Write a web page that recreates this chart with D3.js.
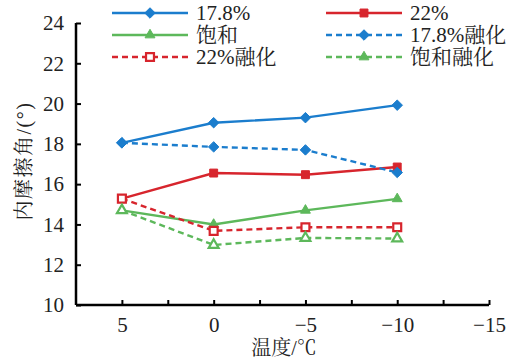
<!DOCTYPE html>
<html>
<head>
<meta charset="utf-8">
<script src="https://cdn.jsdelivr.net/npm/d3@7"></script>
<style>
body { margin: 0; background: #fff; }
</style>
</head>
<body>
<div id="chart"></div>
<script>
// data
const temps = [5, 0, -5, -10];
const xTicks = [5, 0, -5, -10, -15];
const yTicks = [10, 12, 14, 16, 18, 20, 22, 24];
const seriesNames = ["17.8%", "22%", "饱和", "17.8%融化", "22%融化", "饱和融化"];
const v178 = [18.05, 19.05, 19.3, 19.92];
const v22 = [15.28, 16.55, 16.47, 16.85];
const vSat = [14.7, 14.0, 14.7, 15.27];
const v178m = [18.05, 17.85, 17.7, 16.58];
const v22m = [15.28, 13.68, 13.86, 13.86];
const vSatm = [14.7, 12.98, 13.33, 13.3];

const FONT = "\"Liberation Serif\", \"Noto Serif CJK SC\", \"Noto Sans CJK SC\"";
const blue = "#1b7dcd", red = "#d7252d", green = "#5db85b";
const series = [
  {name: seriesNames[0], vals: v178, color: blue, dash: null, marker: "diamond", fill: true},
  {name: seriesNames[1], vals: v22, color: red, dash: null, marker: "square", fill: true},
  {name: seriesNames[2], vals: vSat, color: green, dash: null, marker: "triangle", fill: true},
  {name: seriesNames[3], vals: v178m, color: blue, dash: "6,4", marker: "diamond", fill: true},
  {name: seriesNames[4], vals: v22m, color: red, dash: "6,4", marker: "square", fill: false},
  {name: seriesNames[5], vals: vSatm, color: green, dash: "6,4", marker: "triangle", fill: false}
];

const W = 517, H = 359;
const margin = {top: 23, right: 28, bottom: 54, left: 76};
const width = W - margin.left - margin.right,
      height = H - margin.top - margin.bottom;

const svg = d3.select("#chart").append("svg")
  .attr("width", W).attr("height", H);
const g = svg.append("g").attr("transform", `translate(${margin.left},${margin.top})`);

const x = d3.scaleLinear().domain([7.5, -15]).range([0, width]);
const y = d3.scaleLinear().domain([10, 24]).range([height, 0]);

// axes, ticks pointing inward
const xAxis = g.append("g").attr("transform", `translate(0,${height})`)
  .call(d3.axisBottom(x).tickValues([5, 2.5, 0, -2.5, -5, -7.5, -10, -12.5, -15])
    .tickSize(-5).tickPadding(12)
    .tickFormat(d => xTicks.includes(d) ? (d < 0 ? "\u2212" + (-d) : d) : ""));
const yAxis = g.append("g")
  .call(d3.axisLeft(y).tickValues(yTicks).tickSize(-5).tickPadding(12));

[xAxis, yAxis].forEach(a => {
  a.attr("font-family", null).attr("font-size", null);
  a.select(".domain").attr("stroke", "#000").attr("stroke-width", 2.5);
  a.selectAll(".tick line").attr("stroke", "#000").attr("stroke-width", 2);
  a.selectAll("text").style("font-family", FONT).style("font-size", "21px").attr("fill", "#222");
});
xAxis.select(".domain").attr("d", `M0,0H${width}`);
yAxis.select(".domain").attr("d", `M0,0V${height}`);

const symbols = {diamond: d3.symbolDiamond2, square: d3.symbolSquare2, triangle: d3.symbolTriangle2};
const symSize = {diamond: 70, square: 80, triangle: 70};

function drawMarker(sel, s, filled) {
  sel.attr("d", d3.symbol().type(symbols[s.marker]).size(symSize[s.marker]))
    .attr("fill", filled ? s.color : "#fff")
    .attr("stroke", s.color)
    .attr("stroke-width", filled ? 1 : 2.2);
}

const line = d3.line().x((d, i) => x(temps[i])).y(d => y(d));

series.forEach(s => {
  g.append("path").datum(s.vals)
    .attr("d", line)
    .attr("fill", "none")
    .attr("stroke", s.color)
    .attr("stroke-width", 2.4)
    .attr("stroke-dasharray", s.dash);
});
series.forEach(s => {
  g.selectAll(null).data(s.vals).enter().append("path")
    .attr("transform", (d, i) => `translate(${x(temps[i])},${y(d)})`)
    .call(sel => drawMarker(sel, s, s.fill));
});

// legend, two columns of three rows
const legX = [112, 326], legY = [13, 35, 57];
[[0, 2, 4], [1, 3, 5]].forEach((order, col) => {
  order.forEach((k, row) => {
    const item = series[k];
    const lg = svg.append("g").attr("transform", `translate(${legX[col]},${legY[row]})`);
    lg.append("line").attr("x1", 0).attr("x2", 76).attr("y1", 0).attr("y2", 0)
      .attr("stroke", item.color).attr("stroke-width", 2.4)
      .attr("stroke-dasharray", item.dash);
    lg.append("path").attr("transform", "translate(38,0)")
      .call(sel => drawMarker(sel, item, item.marker === "square" ? item.fill : true));
    lg.append("text").attr("x", 84).attr("y", 7)
      .style("font-family", FONT).style("font-size", "21px").attr("fill", "#222")
      .text(item.name);
  });
});

// axis titles
svg.append("text").attr("x", 284).attr("y", 355)
  .attr("text-anchor", "middle").style("font-family", FONT).style("font-size", "20px")
  .attr("fill", "#222").text("温度/℃");
svg.append("text")
  .attr("transform", "translate(31,161) rotate(-90)")
  .attr("text-anchor", "middle").style("font-family", FONT).style("font-size", "20px")
  .style("letter-spacing", "1.5px")
  .attr("fill", "#222").text("内摩擦角/(°)");
</script>
</body>
</html>
